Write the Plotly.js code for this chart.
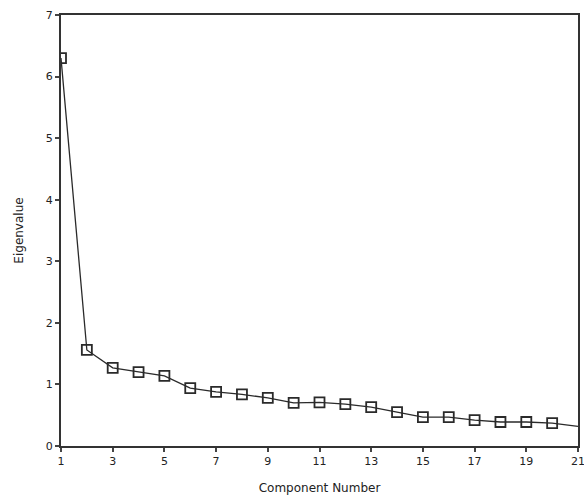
<!DOCTYPE html>
<html>
<head>
<meta charset="utf-8">
<script src="https://cdn.plot.ly/plotly-3.0.1.min.js"></script>
<style>html,body{margin:0;padding:0;background:#fff;}#chart{width:584px;height:504px;}</style>
</head>
<body>
<div id="chart"></div>
<script>
const components = [1,2,3,4,5,6,7,8,9,10,11,12,13,14,15,16,17,18,19,20,21];
const eigenvalues = [6.30,1.56,1.27,1.20,1.14,0.94,0.88,0.84,0.78,0.70,0.71,0.68,0.63,0.55,0.47,0.47,0.42,0.39,0.39,0.37,0.32];
const xTicks = [1,3,5,7,9,11,13,15,17,19,21];
const yTicks = [0,1,2,3,4,5,6,7];

const lineTrace = {
  x: components,
  y: eigenvalues,
  type: 'scatter',
  mode: 'lines',
  line: {color: '#2a2a2a', width: 1.3},
  hoverinfo: 'skip'
};
const markerTrace = {
  x: components.slice(0, 20),
  y: eigenvalues.slice(0, 20),
  type: 'scatter',
  mode: 'markers',
  marker: {symbol: 'square-open', size: 10, color: '#2a2a2a', line: {width: 1.8, color: '#2a2a2a'}},
  cliponaxis: true,
  hoverinfo: 'x+y'
};

const layout = {
  width: 584, height: 504,
  margin: {l: 61, r: 6, t: 15, b: 58},
  paper_bgcolor: '#ffffff', plot_bgcolor: '#ffffff',
  font: {family: 'DejaVu Sans, sans-serif', color: '#222222', size: 11},
  showlegend: false,
  xaxis: {
    range: [1, 21], tickvals: xTicks, ticktext: xTicks.map(String),
    showgrid: false, zeroline: false,
    showline: true, linecolor: '#333333', linewidth: 2, mirror: true,
    ticks: 'outside', ticklen: 4, tickwidth: 2, tickcolor: '#444444',
    ticklabeloverflow: 'allow',
    tickfont: {size: 11, color: '#222222'},
    title: {text: 'Component Number', font: {size: 12, color: '#222222'}, standoff: 16}
  },
  yaxis: {
    range: [0, 7], tickvals: yTicks, ticktext: yTicks.map(String),
    showgrid: false, zeroline: false,
    showline: true, linecolor: '#333333', linewidth: 2, mirror: true,
    ticks: 'outside', ticklen: 4, tickwidth: 2, tickcolor: '#444444',
    tickfont: {size: 11, color: '#222222'},
    title: {text: 'Eigenvalue', font: {size: 12, color: '#222222'}, standoff: 20}
  }
};

Plotly.newPlot('chart', [lineTrace, markerTrace], layout, {displayModeBar: false, staticPlot: true});
</script>
</body>
</html>
